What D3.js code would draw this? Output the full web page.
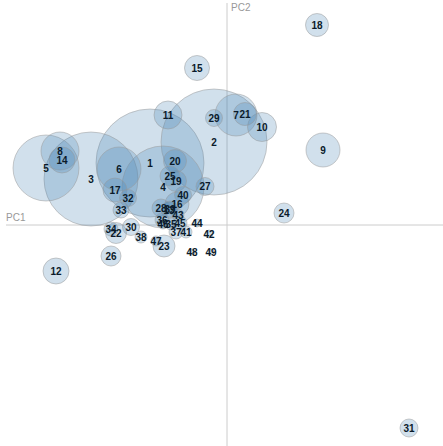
<!DOCTYPE html>
<html><head><meta charset="utf-8">
<script src="https://cdn.jsdelivr.net/npm/d3@7"></script>
<style>
body{margin:0;background:#fff;}
svg{display:block;}
</style></head>
<body>
<script>
// Sample ids
const ids = [1,2,3,4,5,6,7,8,9,10,11,12,13,14,15,16,17,18,19,20,21,22,23,24,25,26,27,28,29,30,31,32,33,34,35,36,37,38,39,40,41,42,43,44,45,46,47,48,49];
// PC1 scores
const pc1 = [-1.54,-0.26,-2.72,-1.28,-3.62,-2.16,0.18,-3.34,1.92,0.70,-1.18,-3.42,-1.16,-3.30,-0.60,-1.00,-2.24,1.80,-1.02,-1.04,0.36,-2.22,-1.26,1.14,-1.14,-2.32,-0.44,-1.32,-0.26,-1.92,3.64,-1.98,-2.12,-2.32,-1.12,-1.30,-1.02,-1.72,-1.14,-0.88,-0.82,-0.36,-0.98,-0.60,-0.94,-1.28,-1.42,-0.70,-0.32];
// PC2 scores
const pc2 = [1.24,1.66,0.92,0.76,1.14,1.12,2.20,1.48,1.50,1.96,2.20,-0.92,0.30,1.30,3.14,0.42,0.70,4.00,0.88,1.28,2.22,-0.16,-0.42,0.24,0.98,-0.62,0.77,0.34,2.14,-0.04,-4.06,0.54,0.30,-0.08,0.02,0.10,-0.14,-0.24,0.32,0.60,-0.14,-0.18,0.20,0.04,0.04,0.02,-0.32,-0.54,-0.54];
// bubble size values
const size = [10.8,10.6,9.4,8.2,6.6,4.4,4.2,3.8,3.4,2.9,2.8,2.6,1.6,2.6,2.5,2.4,2.4,2.3,2.1,2.3,2.3,2.1,2.2,2.0,2.0,2.0,1.8,1.8,1.7,1.7,1.8,1.7,1.6,1.4,1.2,1.4,1.4,1.2,1.6,1.7,1.2,0.8,1.2,0.8,1.4,1.0,1.0,0.6,0.6];
const axisLabels = ["PC1","PC2"];

const W = 443, H = 446;
const svg = d3.select("body").append("svg").attr("width", W).attr("height", H);

const x = d3.scaleLinear().domain([-4.42, 4.32]).range([6, 443]);
const y = d3.scaleLinear().domain([-4.42, 4.44]).range([446, 3]);
const r = d3.scaleLinear().domain([0, 10]).range([0, 50]);

const data = ids.map((id, i) => ({id, x: pc1[i], y: pc2[i], s: size[i]}));

// axes lines
svg.append("line").attr("x1", x(-4.42)).attr("x2", x(4.32)).attr("y1", y(0)).attr("y2", y(0))
  .attr("stroke", "#ccc").attr("stroke-width", 1);
svg.append("line").attr("x1", x(0)).attr("x2", x(0)).attr("y1", y(4.44)).attr("y2", y(-4.42))
  .attr("stroke", "#ccc").attr("stroke-width", 1);

svg.append("text").attr("x", x(-4.42)).attr("y", y(0) - 4)
  .attr("font-family", "Liberation Sans, Arial, sans-serif").attr("font-size", 10).attr("fill", "#999")
  .text(axisLabels[0]);
svg.append("text").attr("x", x(0) + 4).attr("y", y(4.44) + 8)
  .attr("font-family", "Liberation Sans, Arial, sans-serif").attr("font-size", 10).attr("fill", "#999")
  .text(axisLabels[1]);

const g = svg.append("g");
g.selectAll("circle").data(data).join("circle")
  .attr("cx", d => x(d.x)).attr("cy", d => y(d.y)).attr("r", d => r(d.s))
  .attr("fill", "steelblue").attr("fill-opacity", 0.25)
  .attr("stroke", "#999").attr("stroke-opacity", 0.5).attr("stroke-width", 1);

g.selectAll("text").data(data).join("text")
  .attr("x", d => x(d.x)).attr("y", d => y(d.y)).attr("dy", "0.35em")
  .attr("text-anchor", "middle")
  .attr("font-family", "Liberation Sans, Arial, sans-serif").attr("font-weight", "bold")
  .attr("font-size", 10).attr("fill", "#0a1a2a")
  .text(d => d.id);
</script>
</body></html>
